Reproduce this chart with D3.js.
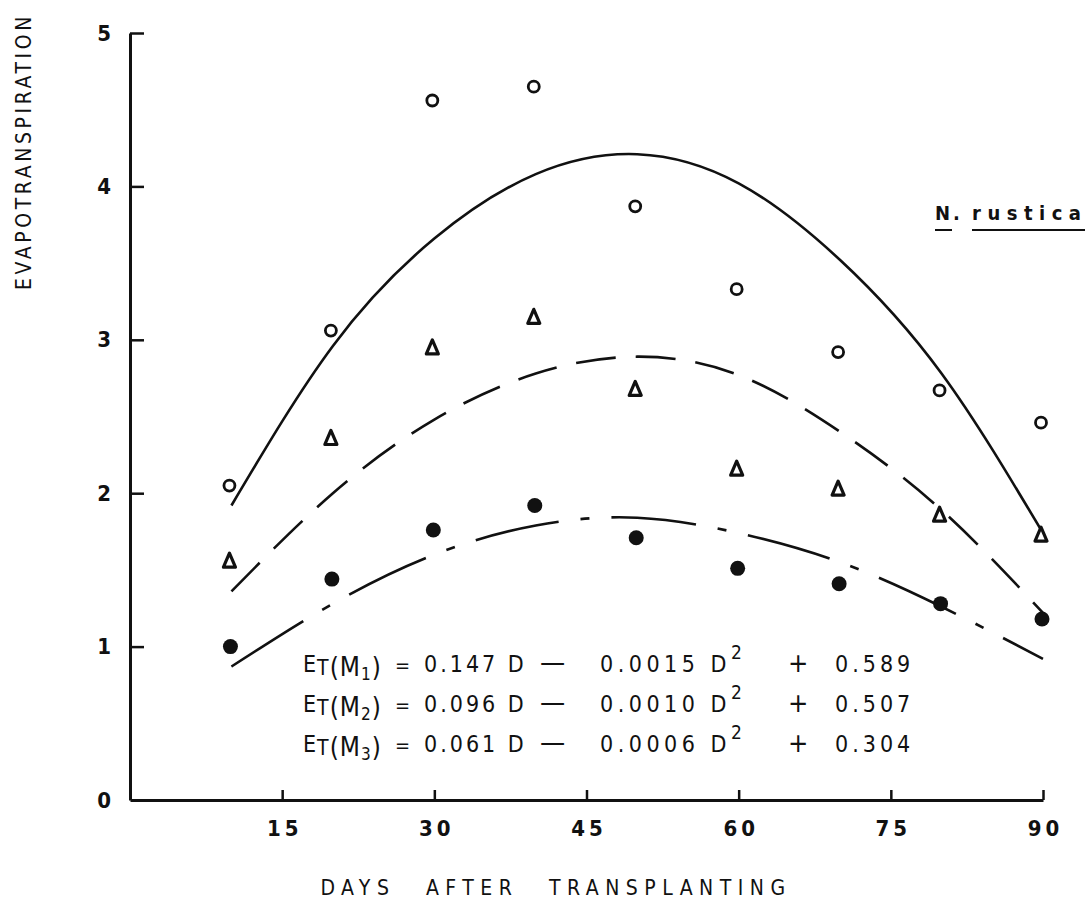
<!DOCTYPE html>
<html>
<head>
<meta charset="utf-8">
<script src="https://cdn.jsdelivr.net/npm/d3@7"></script>
<style>
  body { margin: 0; background: #fff; }
  svg { display: block; }
  .lbl { font-family: "DejaVu Sans Condensed", "DejaVu Sans", sans-serif; fill: #111; }
</style>
</head>
<body>
<div class="chart"></div>
<script>
// observed ET values, days after transplanting
var days = [10, 20, 30, 40, 50, 60, 70, 80, 90];
var m1 = [2.05, 3.06, 4.56, 4.65, 3.87, 3.33, 2.92, 2.67, 2.46];
var m2 = [1.56, 2.36, 2.95, 3.15, 2.68, 2.16, 2.03, 1.86, 1.73];
var m3 = [1.00, 1.44, 1.76, 1.92, 1.71, 1.51, 1.41, 1.28, 1.18];

// fitted curves at the same days
var fit1 = [1.92, 2.96, 3.66, 4.08, 4.21, 4.02, 3.52, 2.78, 1.74];
var fit2 = [1.36, 2.00, 2.48, 2.78, 2.89, 2.77, 2.40, 1.89, 1.22];
var fit3 = [0.87, 1.28, 1.60, 1.79, 1.84, 1.74, 1.55, 1.26, 0.92];

var xTicks = [15, 30, 45, 60, 75, 90];
var yTicks = [0, 1, 2, 3, 4, 5];

var eqSub = ["1", "2", "3"];
var eqA = ["0.147", "0.096", "0.061"];
var eqB = ["0.0015", "0.0010", "0.0006"];
var eqC = ["0.589", "0.507", "0.304"];

var width = 1087, height = 917;

var svg = d3.select(".chart").append("svg")
  .attr("width", width)
  .attr("height", height);

var x = d3.scaleLinear().domain([0, 90]).range([130, 1043]);
var y = d3.scaleLinear().domain([0, 5]).range([800, 33]);

// axes
var xAxis = svg.append("g")
  .attr("transform", "translate(0," + y(0) + ")")
  .call(d3.axisBottom(x).tickValues(xTicks).tickSize(-10).tickSizeOuter(0).tickPadding(20));
var yAxis = svg.append("g")
  .attr("transform", "translate(" + x(0) + ",0)")
  .call(d3.axisLeft(y).tickValues(yTicks).tickSize(-14).tickSizeOuter(0).tickPadding(19)
    .tickFormat(d3.format("d")));

[xAxis, yAxis].forEach(function (g) {
  g.select(".domain").attr("stroke", "#111").attr("stroke-width", 3);
  g.selectAll(".tick line").attr("stroke", "#111").attr("stroke-width", 2.5);
  g.selectAll(".tick text")
    .attr("class", "lbl")
    .style("font-size", "22px")
    .style("font-weight", "bold")
    .style("letter-spacing", "4px")
    .attr("fill", "#111");
});
yAxis.selectAll(".tick").filter(function (d) { return d === 0; }).select("line").remove();
yAxis.selectAll(".tick text").style("letter-spacing", "0px").style("font-size", "22px");
xAxis.selectAll(".tick text").attr("dx", "2px");

// axis titles
svg.append("text")
  .attr("class", "lbl")
  .attr("transform", "translate(31,290) rotate(-90)")
  .style("font-size", "21px")
  .style("letter-spacing", "3.6px")
  .text("EVAPOTRANSPIRATION");

svg.append("text")
  .attr("class", "lbl")
  .attr("x", 556)
  .attr("y", 895)
  .attr("text-anchor", "middle")
  .style("font-size", "21px")
  .style("letter-spacing", "6.5px")
  .style("word-spacing", "18px")
  .text("DAYS AFTER TRANSPLANTING");

// fitted curves
var line = d3.line()
  .x(function (d) { return x(d[0]); })
  .y(function (d) { return y(d[1]); })
  .curve(d3.curveNatural);

var curves = [
  { vals: fit1, dash: null },
  { vals: fit2, dash: "40,20" },
  { vals: fit3, dash: "85,22,9,22" }
];

svg.append("g").selectAll("path")
  .data(curves)
  .enter()
  .append("path")
  .attr("d", function (c) { return line(days.map(function (d, i) { return [d, c.vals[i]]; })); })
  .attr("fill", "none")
  .attr("stroke", "#111")
  .attr("stroke-width", 2.6)
  .attr("stroke-dasharray", function (c) { return c.dash; });

// observed points
svg.append("g").selectAll("circle.m1")
  .data(days)
  .enter()
  .append("circle")
  .attr("class", "m1")
  .attr("cx", function (d) { return x(d) - 2; })
  .attr("cy", function (d, i) { return y(m1[i]); })
  .attr("r", 5.5)
  .attr("fill", "#fff")
  .attr("stroke", "#111")
  .attr("stroke-width", 2.8);

var tri = "M0,-7.5L6,6.5L-6,6.5Z";
svg.append("g").selectAll("path.m2")
  .data(days)
  .enter()
  .append("path")
  .attr("class", "m2")
  .attr("d", tri)
  .attr("transform", function (d, i) { return "translate(" + (x(d) - 2) + "," + y(m2[i]) + ")"; })
  .attr("fill", "#fff")
  .attr("stroke", "#111")
  .attr("stroke-width", 3.2)
  .attr("stroke-linejoin", "round");

svg.append("g").selectAll("circle.m3")
  .data(days)
  .enter()
  .append("circle")
  .attr("class", "m3")
  .attr("cx", function (d) { return x(d) - 1; })
  .attr("cy", function (d, i) { return y(m3[i]); })
  .attr("r", 7.5)
  .attr("fill", "#111");

// species label
var sp = svg.append("g");
sp.append("text")
  .attr("class", "lbl")
  .attr("x", 935)
  .attr("y", 220)
  .style("font-size", "20px")
  .style("font-weight", "bold")
  .style("letter-spacing", "3px")
  .text("N.");
sp.append("text")
  .attr("class", "lbl")
  .attr("x", 972)
  .attr("y", 220)
  .style("font-size", "20px")
  .style("font-weight", "bold")
  .style("letter-spacing", "6.5px")
  .text("rustica");
sp.append("line").attr("x1", 935).attr("x2", 952).attr("y1", 230).attr("y2", 230)
  .attr("stroke", "#111").attr("stroke-width", 2);
sp.append("line").attr("x1", 972).attr("x2", 1085).attr("y1", 230).attr("y2", 230)
  .attr("stroke", "#111").attr("stroke-width", 2);

// regression equations
var eq = svg.append("g").attr("class", "eq");
eqA.forEach(function (a, i) {
  var by = 672 + i * 40;
  var t = eq.append("text").attr("class", "lbl").attr("x", 303).attr("y", by)
    .style("font-size", "23px").style("letter-spacing", "1px");
  t.append("tspan").text("E");
  t.append("tspan").attr("dy", 3).style("font-size", "21px").text("T");
  t.append("tspan").attr("dy", 1).style("font-size", "26px").text("(M");
  t.append("tspan").attr("dy", 4).style("font-size", "17px").text(eqSub[i]);
  t.append("tspan").attr("dy", -4).style("font-size", "26px").text(")");

  function put(xp, s, ls) {
    return eq.append("text").attr("class", "lbl").attr("x", xp).attr("y", by)
      .style("font-size", "23px").style("letter-spacing", (ls || 3.5) + "px").text(s);
  }
  put(395, "=", 0).style("font-size", "20px");
  put(424, a + " D", 3);
  put(540, "\u2014", 0).style("font-size", "28px");
  var tb = put(600, eqB[i] + " D", 4.5);
  tb.append("tspan").attr("dy", -13).style("font-size", "19px").text("2");
  put(788, "+", 0).style("font-size", "27px");
  put(835, eqC[i], 4);
});
</script>
</body>
</html>
